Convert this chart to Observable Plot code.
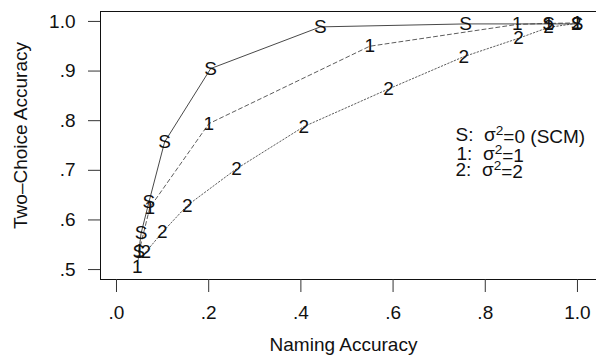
<!DOCTYPE html>
<html>
<head>
<meta charset="utf-8">
<script src="https://cdn.jsdelivr.net/npm/d3@7"></script>
<script src="https://cdn.jsdelivr.net/npm/@observablehq/plot@0.6"></script>
<style>
  html, body { margin: 0; padding: 0; background: #fff; }
  #chart svg { display: block; }
</style>
</head>
<body>
<div id="chart"></div>
<script>
// Two-choice accuracy against naming accuracy for three values of sigma^2.
const namingS    = [0.044, 0.049, 0.066, 0.100, 0.200, 0.438, 0.753, 0.933, 0.995];
const twoChoiceS = [0.535, 0.573, 0.636, 0.757, 0.905, 0.989, 0.995, 0.995, 0.995];

const naming1    = [0.041, 0.045, 0.068, 0.196, 0.545, 0.865, 0.933, 0.995];
const twoChoice1 = [0.506, 0.538, 0.625, 0.794, 0.950, 0.994, 0.996, 0.997];

const naming2    = [0.059, 0.095, 0.149, 0.256, 0.402, 0.586, 0.749, 0.868, 0.933, 0.993];
const twoChoice2 = [0.535, 0.575, 0.629, 0.703, 0.788, 0.864, 0.929, 0.966, 0.988, 0.996];

const xTicks = [0, 0.2, 0.4, 0.6, 0.8, 1.0];
const xTickLabels = [".0", ".2", ".4", ".6", ".8", "1.0"];
const yTicks = [0.5, 0.6, 0.7, 0.8, 0.9, 1.0];
const yTickLabels = [".5", ".6", ".7", ".8", ".9", "1.0"];

const legendLines = ["S:  σ²=0 (SCM)", "1:  σ²=1", "2:  σ²=2"];
const xTitle = "Naming Accuracy";
const yTitle = "Two–Choice Accuracy";

const rows = (marker, xs, ys) => xs.map((x, i) => ({marker, x, y: ys[i]}));
const seriesS = rows("S", namingS, twoChoiceS);
const series1 = rows("1", naming1, twoChoice1);
const series2 = rows("2", naming2, twoChoice2);

const font = "'Liberation Sans', Arial, Helvetica, sans-serif";
const ink = "#111";
const fs = 19;

const chart = Plot.plot({
  width: 596,
  height: 360,
  marginLeft: 100,
  marginRight: 0,
  marginTop: 11,
  marginBottom: 81,
  style: {fontFamily: font, fontSize: fs + "px", background: "#fff", color: ink},
  x: {domain: [-0.04, 1.04], range: [99.56, 597.4]},
  y: {domain: [0.48, 1.02], range: [279, 11]},
  marks: [
    Plot.frame({stroke: ink, strokeWidth: 1}),
    Plot.axisX(xTicks, {
      tickSize: 13, tickPadding: 13, fontSize: fs, stroke: "#333", dx: -2,
      tickFormat: d => xTickLabels[xTicks.indexOf(d)], label: null
    }),
    Plot.axisY(yTicks, {
      tickSize: 12, tickPadding: 13, fontSize: fs, stroke: "#333",
      tickFormat: d => yTickLabels[yTicks.indexOf(d)], label: null
    }),
    Plot.text([xTitle], {frameAnchor: "bottom", dy: 71, dx: -5, textAnchor: "middle", fontSize: fs, fill: ink}),
    Plot.text([yTitle], {frameAnchor: "left", dx: -80, dy: -10, rotate: -90, textAnchor: "middle", fontSize: fs, fill: ink}),

    Plot.line(series2, {x: "x", y: "y", stroke: "#333", strokeWidth: 0.8, strokeDasharray: "1.5,2"}),
    Plot.line(series1, {x: "x", y: "y", stroke: "#333", strokeWidth: 0.8, strokeDasharray: "4,3"}),
    Plot.line(seriesS, {x: "x", y: "y", stroke: "#333", strokeWidth: 0.9}),

    Plot.text(series2, {x: "x", y: "y", text: "marker", fontSize: fs, fill: ink}),
    Plot.text(series1, {x: "x", y: "y", text: "marker", fontSize: fs, fill: ink}),
    Plot.text(seriesS, {x: "x", y: "y", text: "marker", fontSize: fs, fill: ink}),

    Plot.text([legendLines[0]], {frameAnchor: "top-left", dx: 355, dy: 116, textAnchor: "start", fontSize: fs, fill: ink, className: "key"}),
    Plot.text([legendLines[1]], {frameAnchor: "top-left", dx: 356, dy: 135, textAnchor: "start", fontSize: fs, fill: ink, className: "key"}),
    Plot.text([legendLines[2]], {frameAnchor: "top-left", dx: 355, dy: 151, textAnchor: "start", fontSize: fs, fill: ink, className: "key"})
  ]
});

// Set the exponent in the key as a raised, smaller "2".
d3.select(chart).selectAll("g.key text").each(function () {
  const label = this.textContent;
  const [before, after] = label.split("²");
  if (after === undefined) return;
  const node = d3.select(this).text(null);
  node.append("tspan").text(before);
  node.append("tspan").attr("dy", "-0.42em").attr("font-size", "0.72em").text("2");
  node.append("tspan").attr("dy", "0.42em").text(after);
});

document.getElementById("chart").appendChild(chart);
</script>
</body>
</html>
